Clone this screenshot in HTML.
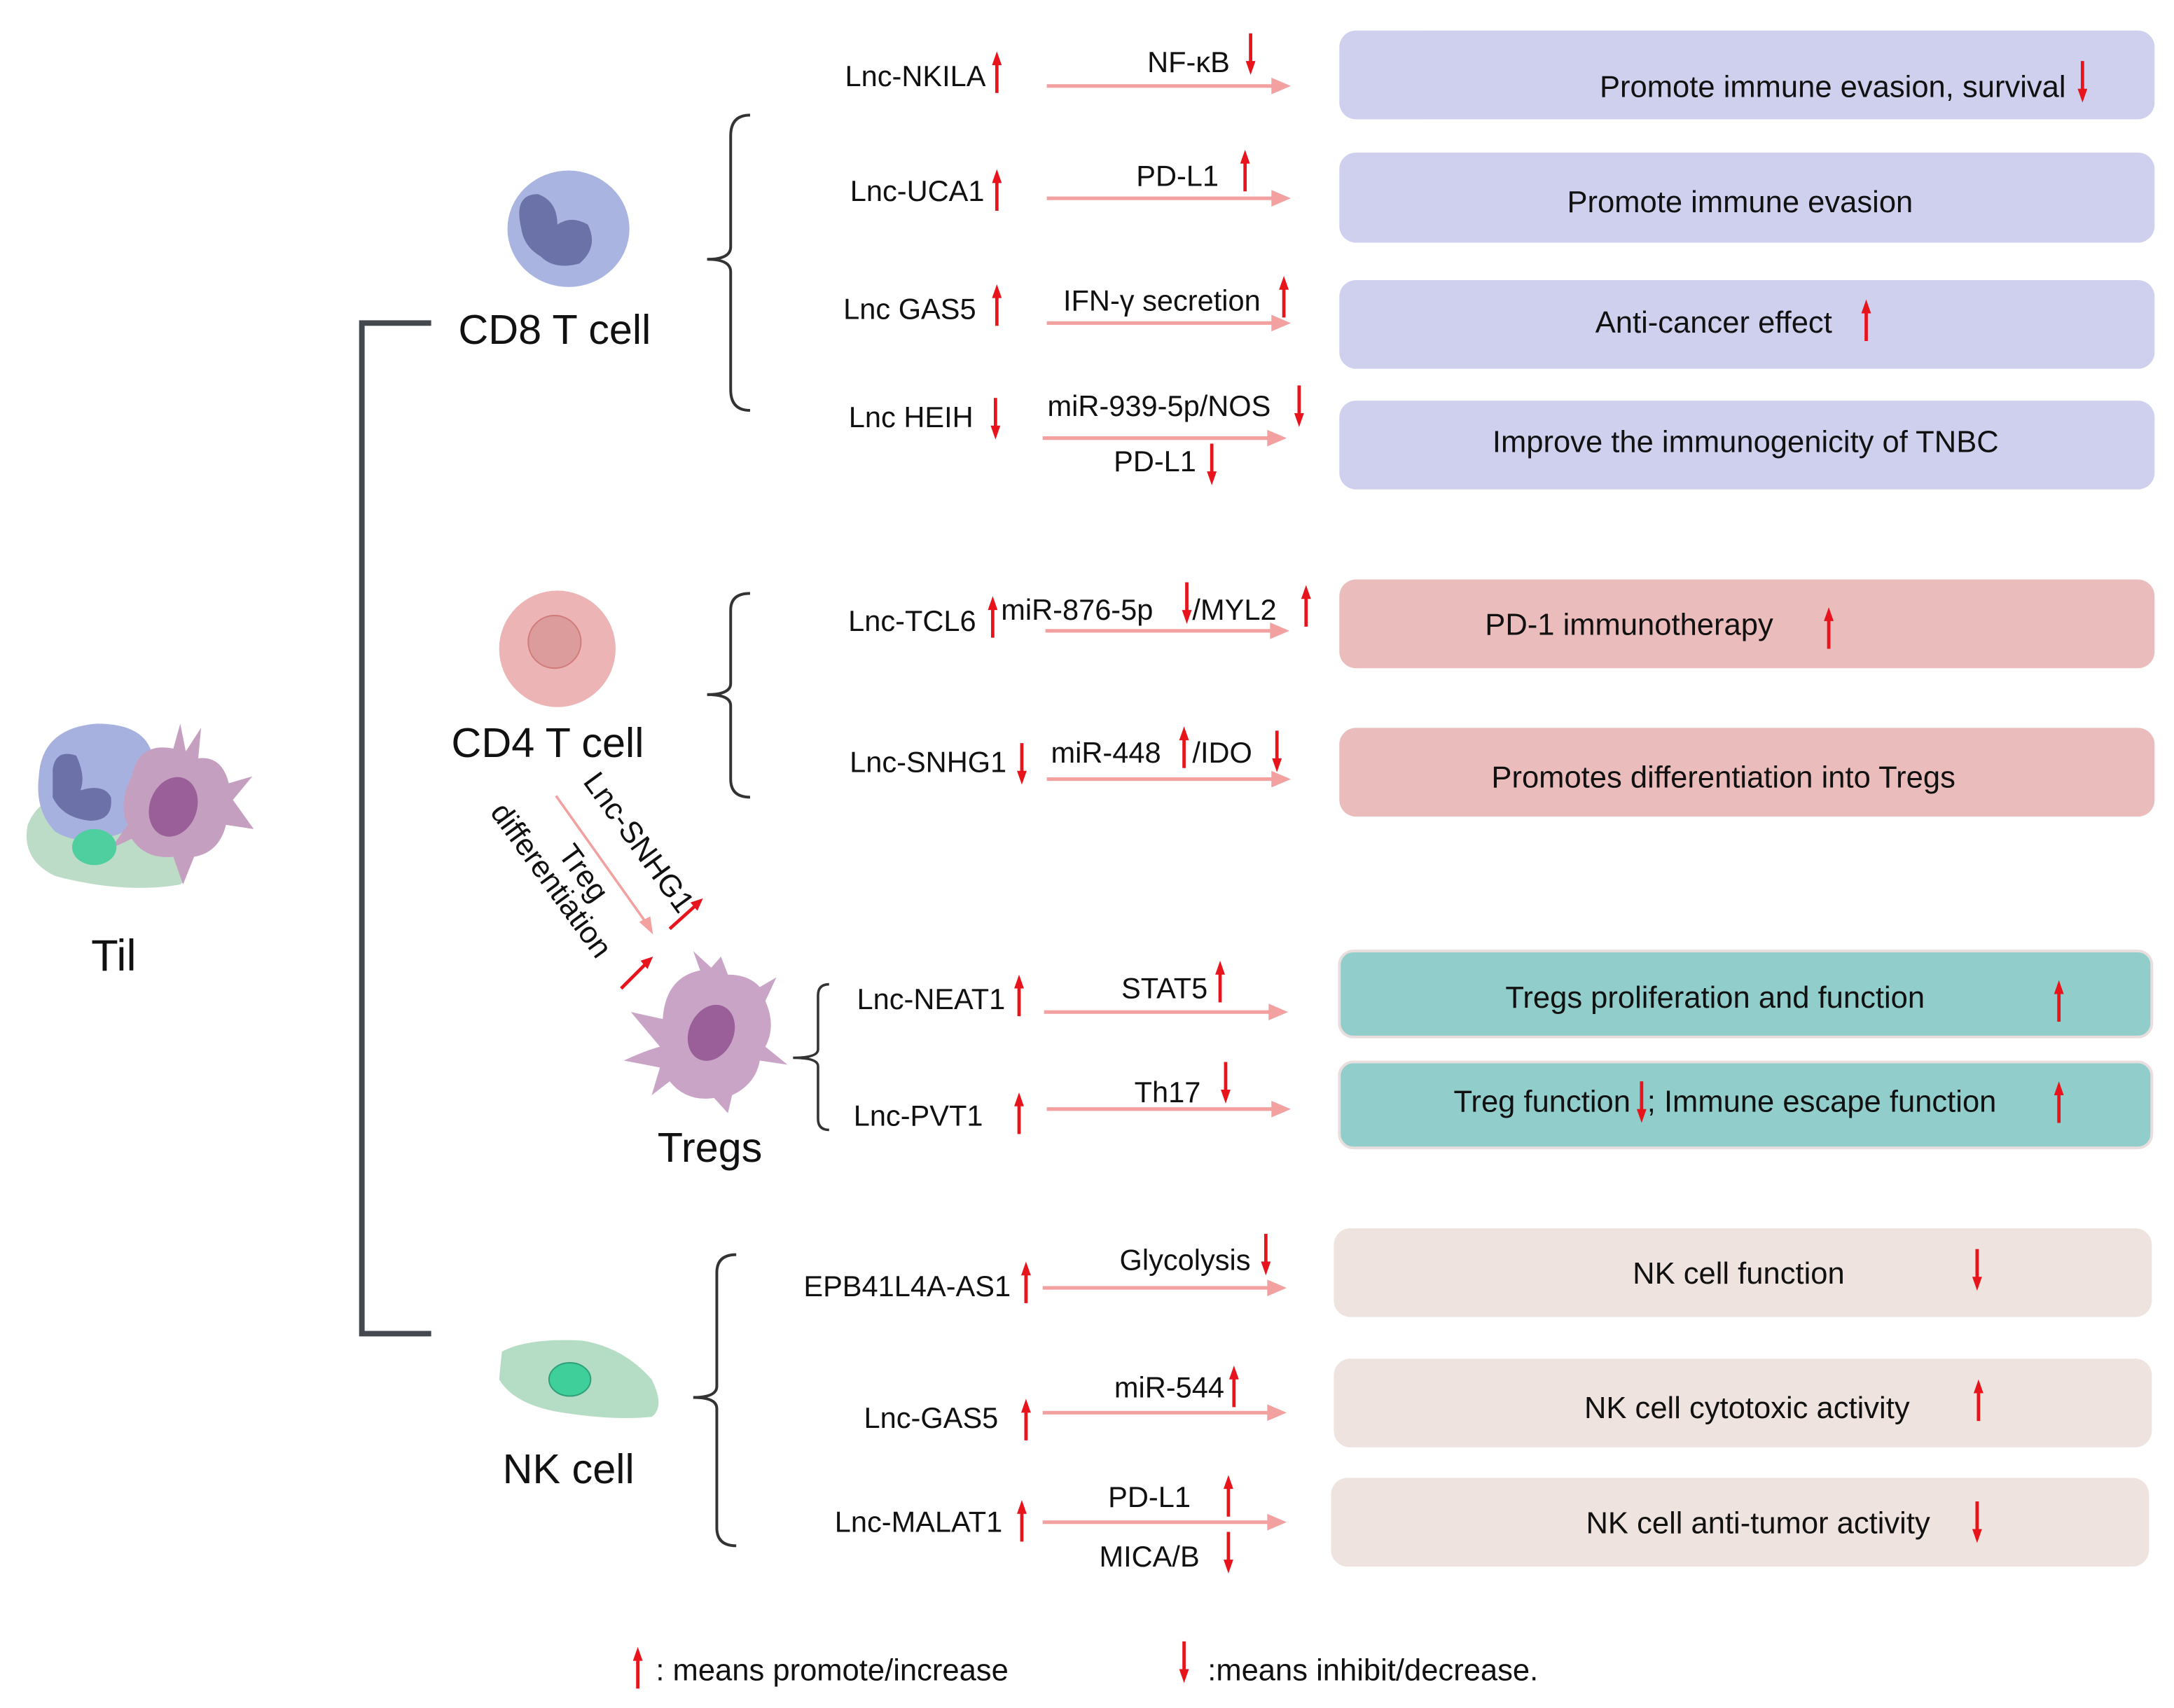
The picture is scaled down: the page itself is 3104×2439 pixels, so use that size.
<!DOCTYPE html>
<html><head><meta charset="utf-8"><style>
html,body{margin:0;padding:0;background:#fff}
svg{display:block}
text{font-family:"Liberation Sans",sans-serif;fill:#111}
</style></head><body>
<svg width="3104" height="2439" viewBox="0 0 1568 1232" xmlns="http://www.w3.org/2000/svg">
<defs>
<g id="up"><line x1="0" y1="0" x2="0" y2="-26" stroke="#e8141b" stroke-width="2.4"/><path d="M-3.5,-20 L0,-30 L3.5,-20Z" fill="#e8141b"/></g>
<g id="dn"><line x1="0" y1="0" x2="0" y2="26" stroke="#e8141b" stroke-width="2.4"/><path d="M-3.5,20 L0,30 L3.5,20Z" fill="#e8141b"/></g>
<g id="pa"><line x1="0" y1="0" x2="165" y2="0" stroke="#f2a0a0" stroke-width="2.6"/><path d="M162,-6 L176,0 L162,6Z" fill="#f2a0a0"/></g>
</defs>

<path d="M311,233 L261,233 L261,962 L311,962" fill="none" stroke="#44484f" stroke-width="4"/>

<g>
<path d="M20,595 Q30,570 60,575 Q110,590 125,610 Q140,630 130,638 Q90,645 40,632 Q15,620 20,595Z" fill="#bcdcc8"/>
<path d="M28,560 Q30,525 70,522 Q105,522 110,545 Q100,570 90,600 Q60,612 40,600 Q25,585 28,560Z" fill="#a7b1e0"/>
<path d="M95,560 Q100,535 125,540 L130,522 L134,542 L145,525 L143,547 Q160,545 165,565 L182,560 L168,577 L183,598 L163,595 Q158,615 140,618 L132,638 L125,618 Q105,620 95,605 L80,612 L92,595 Q85,580 95,560Z" fill="#c59fc0"/>
<ellipse cx="125" cy="582" rx="17" ry="22" fill="#9a5f99" transform="rotate(20 125 582)"/>
<path d="M38,555 Q40,540 55,545 Q62,560 58,570 Q75,565 80,575 Q82,592 65,592 Q45,590 38,575Z" fill="#6c72a8"/>
<ellipse cx="68" cy="611" rx="16" ry="13" fill="#4fcf9f"/>
</g>
<text x="82" y="700" font-size="32" text-anchor="middle">Til</text>

<ellipse cx="410" cy="165" rx="44" ry="42" fill="#aab4e0"/>
<path d="M376,165 Q370,140 388,140 Q402,145 402,162 Q412,155 424,162 Q432,178 418,190 Q400,195 390,185 Q378,178 376,165Z" fill="#6b72a8"/>
<text x="400" y="248" font-size="30" text-anchor="middle">CD8 T cell</text>
<path d="M541,83 Q527,83 527,98 L527,178 Q527,187 510,187 Q527,187 527,196 L527,281 Q527,296 541,296" fill="none" stroke="#333" stroke-width="2"/>

<g font-size="21">
<text x="711" y="62" text-anchor="end">Lnc-NKILA</text><use href="#up" x="719" y="67"/>
<use href="#pa" x="755" y="62"/>
<text x="887" y="52" text-anchor="end">NF-κB</text><use href="#dn" x="902" y="24"/>
<rect x="966" y="22" width="588" height="64" rx="12" fill="#cfd0ee"/>
<text x="1490" y="70" text-anchor="end" font-size="22">Promote immune evasion, survival</text><use href="#dn" x="1502" y="44"/>

<text x="710" y="145" text-anchor="end">Lnc-UCA1</text><use href="#up" x="719" y="152"/>
<use href="#pa" x="755" y="143"/>
<text x="879" y="134" text-anchor="end">PD-L1</text><use href="#up" x="898" y="138"/>
<rect x="966" y="110" width="588" height="65" rx="12" fill="#cfd0ee"/>
<text x="1255" y="153" text-anchor="middle" font-size="22">Promote immune evasion</text>

<text x="704" y="230" text-anchor="end">Lnc GAS5</text><use href="#up" x="719" y="235"/>
<use href="#pa" x="755" y="233"/>
<text x="838" y="224" text-anchor="middle">IFN-γ secretion</text><use href="#up" x="926" y="229"/>
<rect x="966" y="202" width="588" height="64" rx="12" fill="#cfd0ee"/>
<text x="1236" y="240" text-anchor="middle" font-size="22">Anti-cancer effect</text><use href="#up" x="1346" y="246"/>

<text x="702" y="308" text-anchor="end">Lnc HEIH</text><use href="#dn" x="718" y="287"/>
<use href="#pa" x="752" y="316"/>
<text x="836" y="300" text-anchor="middle">miR-939-5p/NOS</text><use href="#dn" x="937" y="278"/>
<text x="833" y="340" text-anchor="middle">PD-L1</text><use href="#dn" x="874" y="320"/>
<rect x="966" y="289" width="588" height="64" rx="12" fill="#cfd0ee"/>
<text x="1259" y="326" text-anchor="middle" font-size="22">Improve the immunogenicity of TNBC</text>
</g>

<circle cx="402" cy="468" r="42" fill="#ecb4b4"/>
<circle cx="400" cy="463" r="19" fill="#dc9c9c" stroke="#d27a7a" stroke-width="1"/>
<text x="395" y="546" font-size="30" text-anchor="middle">CD4 T cell</text>
<path d="M541,428 Q527,428 527,440 L527,493 Q527,501 510,501 Q527,501 527,509 L527,562 Q527,575 541,575" fill="none" stroke="#333" stroke-width="2"/>

<g font-size="21">
<text x="704" y="455" text-anchor="end">Lnc-TCL6</text><use href="#up" x="716" y="460"/>
<use href="#pa" x="754" y="455"/>
<text x="722" y="447">miR-876-5p</text><use href="#dn" x="856" y="420"/><text x="860" y="447">/MYL2</text><use href="#up" x="942" y="452"/>
<rect x="966" y="418" width="588" height="64" rx="12" fill="#ebbcbc"/>
<text x="1175" y="458" text-anchor="middle" font-size="22">PD-1 immunotherapy</text><use href="#up" x="1319" y="468"/>

<text x="726" y="557" text-anchor="end">Lnc-SNHG1</text><use href="#dn" x="737" y="536"/>
<use href="#pa" x="755" y="562"/>
<text x="758" y="550">miR-448</text><use href="#up" x="854" y="554"/><text x="860" y="550">/IDO</text><use href="#dn" x="921" y="527"/>
<rect x="966" y="525" width="588" height="64" rx="12" fill="#ebbcbc"/>
<text x="1243" y="568" text-anchor="middle" font-size="22">Promotes differentiation into Tregs</text>
</g>

<line x1="401" y1="574" x2="467" y2="667" stroke="#f2a0a0" stroke-width="1.8"/>
<path d="M461,665 L471,674 L469,661Z" fill="#f2a0a0"/>
<text x="0" y="0" font-size="22" transform="translate(420,564) rotate(54)">Lnc-SNHG1</text>
<line x1="483" y1="670" x2="503" y2="652" stroke="#e8141b" stroke-width="2.4"/><path d="M498,651 L507,648 L503,657Z" fill="#e8141b"/>
<text x="0" y="0" font-size="22" transform="translate(415,634) rotate(54)" text-anchor="middle">Treg</text>
<text x="0" y="0" font-size="22" transform="translate(353,586) rotate(54)">differentiation</text>
<line x1="448" y1="713" x2="467" y2="694" stroke="#e8141b" stroke-width="2.4"/><path d="M462,693 L471,690 L467,699Z" fill="#e8141b"/>

<path d="M478,735 Q480,705 505,700 L500,686 L513,698 L520,690 L525,703 Q540,703 548,712 L560,705 L552,722 Q560,740 552,755 L568,768 L548,765 Q545,782 528,790 L525,803 L515,792 Q495,795 483,780 L470,790 L476,770 L450,765 Q465,758 476,755 L455,730Z" fill="#c9a4c6"/>
<ellipse cx="513" cy="745" rx="16" ry="21" fill="#9a5f99" transform="rotate(25 513 745)"/>
<text x="512" y="838" font-size="30" text-anchor="middle">Tregs</text>
<path d="M598,710 Q590,710 590,718 L590,757 Q590,763 572,763 Q590,763 590,769 L590,807 Q590,815 598,815" fill="none" stroke="#333" stroke-width="1.8"/>

<g font-size="21">
<text x="725" y="728" text-anchor="end">Lnc-NEAT1</text><use href="#up" x="735" y="733"/>
<use href="#pa" x="753" y="730"/>
<text x="871" y="720" text-anchor="end">STAT5</text><use href="#up" x="880" y="723"/>
<rect x="966" y="686" width="586" height="62" rx="10" fill="#91cdca" stroke="#e8dede" stroke-width="2"/>
<text x="1237" y="727" text-anchor="middle" font-size="22">Tregs proliferation and function</text><use href="#up" x="1485" y="737"/>

<text x="709" y="812" text-anchor="end">Lnc-PVT1</text><use href="#up" x="735" y="818"/>
<use href="#pa" x="755" y="800"/>
<text x="866" y="795" text-anchor="end">Th17</text><use href="#dn" x="884" y="766"/>
<rect x="966" y="766" width="586" height="62" rx="10" fill="#91cdca" stroke="#e8dede" stroke-width="2"/>
<text x="1176" y="802" text-anchor="end" font-size="22">Treg function</text><use href="#dn" x="1184" y="780"/>
<text x="1188" y="802" font-size="22">; Immune escape function</text><use href="#up" x="1485" y="810"/>
</g>

<path d="M362,975 Q380,965 420,967 Q450,972 470,995 Q480,1015 470,1022 Q440,1025 400,1018 Q370,1012 360,995Z" fill="#b5dcc5"/>
<ellipse cx="411" cy="995" rx="15" ry="12" fill="#3fcf9a" stroke="#2ea07a" stroke-width="1"/>
<text x="410" y="1070" font-size="30" text-anchor="middle">NK cell</text>
<path d="M531,905 Q517,905 517,918 L517,1000 Q517,1008 500,1008 Q517,1008 517,1016 L517,1102 Q517,1115 531,1115" fill="none" stroke="#333" stroke-width="2"/>

<g font-size="21">
<text x="729" y="935" text-anchor="end">EPB41L4A-AS1</text><use href="#up" x="740" y="940"/>
<use href="#pa" x="752" y="929"/>
<text x="902" y="916" text-anchor="end">Glycolysis</text><use href="#dn" x="913" y="890"/>
<rect x="962" y="886" width="590" height="64" rx="12" fill="#eee3de"/>
<text x="1254" y="926" text-anchor="middle" font-size="22">NK cell  function</text><use href="#dn" x="1426" y="901"/>

<text x="720" y="1030" text-anchor="end">Lnc-GAS5</text><use href="#up" x="740" y="1039"/>
<use href="#pa" x="752" y="1019"/>
<text x="883" y="1008" text-anchor="end">miR-544</text><use href="#up" x="890" y="1015"/>
<rect x="962" y="980" width="590" height="64" rx="12" fill="#eee3de"/>
<text x="1260" y="1023" text-anchor="middle" font-size="22">NK cell cytotoxic activity</text><use href="#up" x="1427" y="1025"/>

<text x="723" y="1105" text-anchor="end">Lnc-MALAT1</text><use href="#up" x="737" y="1112"/>
<use href="#pa" x="752" y="1098"/>
<text x="829" y="1087" text-anchor="middle">PD-L1</text><use href="#up" x="886" y="1094"/>
<text x="829" y="1130" text-anchor="middle">MICA/B</text><use href="#dn" x="886" y="1105"/>
<rect x="960" y="1066" width="590" height="64" rx="12" fill="#eee3de"/>
<text x="1268" y="1106" text-anchor="middle" font-size="22">NK cell anti-tumor activity</text><use href="#dn" x="1426" y="1083"/>
</g>

<use href="#up" x="460" y="1218"/>
<text x="473" y="1212" font-size="22">: means promote/increase</text>
<use href="#dn" x="854" y="1184"/>
<text x="871" y="1212" font-size="22">:means inhibit/decrease.</text>
</svg>
</body></html>
